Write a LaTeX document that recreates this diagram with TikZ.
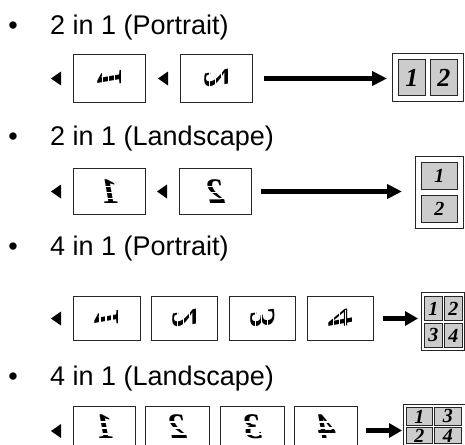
\documentclass[tikz,border=0pt]{standalone}
\usepackage{fontspec}
\setmainfont{Liberation Sans}
\newfontfamily\dg{Liberation Serif}
\usetikzlibrary{arrows.meta,calc}
\tikzset{
  src/.style={draw=black!85, line width=1pt, inner sep=0pt, anchor=north west},
  sheet/.style={draw=black!85, line width=0.9pt, inner sep=0pt, anchor=north west, fill=white},
  cell/.style={draw=black!85, line width=0.9pt, fill=black!20, inner sep=0pt, anchor=north west},
  bigcell/.style={cell, font=\dg\bfseries\itshape\fontsize{26}{26}\selectfont},
  midcell/.style={cell, font=\dg\bfseries\itshape\fontsize{20}{20}\selectfont},
  glyph/.style={font=\dg\bfseries\itshape\fontsize{36}{36}\selectfont, inner sep=0pt},
  head/.style={font=\fontsize{27}{32}\selectfont, anchor=base west, inner sep=0pt},
  bul/.style={font=\fontsize{27}{32}\selectfont, anchor=base, inner sep=0pt},
  tri/.style={fill=black},
  stripe/.style={draw=white, line width=1.5pt},
  bigarrow/.style={line width=5pt, -{Triangle[length=15pt,width=14pt]}},
  smallarrow/.style={line width=5pt, -{Triangle[length=13pt,width=14pt]}},
}
\newcommand\pgV[2]{% portrait glyph: mirrored and turned
  \node[glyph, cm={0,-1,-1,0,(0,0)}] at (#1.center) {#2};
  \foreach \dx in {-7,-1,5} \draw[stripe] ([xshift=\dx pt, yshift=9pt]#1.center) -- ++(0,18);
}
\newcommand\pgH[3][0]{% landscape glyph: mirrored
  \node[glyph, xscale=-1] at ([yshift=#1pt]#2.center) {#3};
  \foreach \dy in {-7,-1,5} \draw[stripe] ([xshift=-9pt, yshift=\dy pt+#1pt]#2.center) -- ++(18,0);
}
\newcommand\ltri[2][0]{%
  \fill[tri] ([shift={(-12pt,7pt+#1pt)}]#2.west) -- ++(0,14) -- ++(-10,-7) -- cycle;
}
\begin{document}
\begin{tikzpicture}[x=1pt,y=-1pt]
\useasboundingbox (0,0) rectangle (465,444);
\clip (0,0) rectangle (465,444);

% ---------- Row 1 ----------
\node[bul] (u1) at (13,35) {•};
\node[head] (t1) at (50,35) {2 in 1 (Portrait)};
\node[src, minimum width=72, minimum height=48] (a1) at (73,54) {};
\node[src, minimum width=72, minimum height=48] (a2) at (180,54) {};
\ltri{a1}\ltri{a2}
\pgV{a1}{1}\pgV{a2}{2}
\node[sheet, minimum width=71, minimum height=48] (r1) at (392,53) {};
\node[bigcell, minimum width=27, minimum height=36] (c11) at (398,59) {1};
\node[bigcell, minimum width=27, minimum height=36] (c12) at (430,59) {2};
\draw[bigarrow] ([xshift=11pt]a2.east) -- ($(a2.east -| r1.west)+(-5,0)$);

% ---------- Row 2 ----------
\node[bul] (u2) at (13,145) {•};
\node[head] (t2) at (50,145) {2 in 1 (Landscape)};
\node[src, minimum width=72, minimum height=46] (b1) at (73,168) {};
\node[src, minimum width=72, minimum height=46] (b2) at (179,168) {};
\ltri{b1}\ltri{b2}
\pgH{b1}{1}\pgH{b2}{2}
\node[sheet, minimum width=48, minimum height=72] (r2) at (415,156) {};
\node[midcell, minimum width=36, minimum height=27] (c21) at (421,162) {1};
\node[midcell, minimum width=36, minimum height=27] (c22) at (421,195) {2};
\draw[bigarrow] ([xshift=9pt]b2.east) -- ($(b2.east -| r2.west)+(-13,0)$);

% ---------- Row 3 ----------
\node[bul] (u3) at (13,255) {•};
\node[head] (t3) at (50,255) {4 in 1 (Portrait)};
\node[src, minimum width=67, minimum height=44] (d1) at (73,296) {};
\node[src, minimum width=66, minimum height=44] (d2) at (151,296) {};
\node[src, minimum width=66, minimum height=44] (d3) at (229,296) {};
\node[src, minimum width=66, minimum height=44] (d4) at (307,296) {};
\ltri{d1}
\pgV{d1}{1}\pgV{d2}{2}\pgV{d3}{3}\pgV{d4}{4}
\node[sheet, minimum width=43, minimum height=58] (r3) at (421,292) {};
\node[midcell, minimum width=18, minimum height=24] (c31) at (424,296) {1};
\node[midcell, minimum width=18, minimum height=24] (c32) at (444,296) {2};
\node[midcell, minimum width=18, minimum height=24] (c33) at (424,323) {3};
\node[midcell, minimum width=18, minimum height=24] (c34) at (444,323) {4};
\draw[smallarrow] ([xshift=9pt]d4.east) -- ($(d4.east -| r3.west)+(-3,0)$);

% ---------- Row 4 ----------
\node[bul] (u4) at (13,385) {•};
\node[head] (t4) at (50,385) {4 in 1 (Landscape)};
\node[src, minimum width=62, minimum height=39] (e1) at (73,406) {};
\node[src, minimum width=64, minimum height=39] (e2) at (145,406) {};
\node[src, minimum width=64, minimum height=39] (e3) at (220,406) {};
\node[src, minimum width=63, minimum height=39] (e4) at (294,406) {};
\ltri[-5]{e1}
\pgH[-1]{e1}{1}\pgH[-1]{e2}{2}\pgH[-1]{e3}{3}\pgH[-1]{e4}{4}
\node[sheet, minimum width=62, minimum height=44] (r4) at (403,404) {};
\node[midcell, minimum width=26, minimum height=18] (c41) at (406,407) {1};
\node[midcell, minimum width=27, minimum height=18] (c43) at (434,407) {3};
\node[midcell, minimum width=26, minimum height=16] (c42) at (406,427) {2};
\node[midcell, minimum width=27, minimum height=16] (c44) at (434,427) {4};
\draw[smallarrow] ($(e4.east)+(8,4.5)$) -- ($(e4.east -| r4.west)+(-1,4.5)$);
\end{tikzpicture}
\end{document}
